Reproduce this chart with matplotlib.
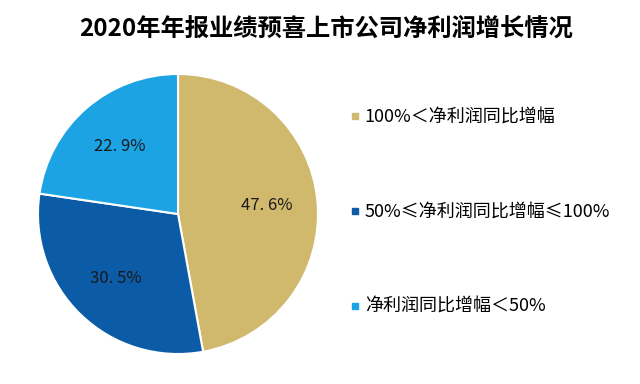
import matplotlib.pyplot as plt
from matplotlib.lines import Line2D

plt.rcParams['font.family'] = ['Noto Sans CJK SC', 'DejaVu Sans']

labels = ['100%＜净利润同比增幅', '50%≤净利润同比增幅≤100%', '净利润同比增幅＜50%']
values = [47.6, 30.5, 22.9]
colors = ['#D0B86C', '#0B5BA6', '#1BA3E3']

fig = plt.figure(figsize=(6.4, 3.84), dpi=100)
ax = fig.add_axes([38 / 640, 30 / 384, 280 / 640, 280 / 384])

pct_text = iter(['{:.1f}%'.format(v).replace('.', '. ') for v in values])
wedges, texts, autotexts = ax.pie(
    values, colors=colors, startangle=90, counterclock=False,
    autopct=lambda p: next(pct_text),
    pctdistance=0.64, radius=1.0,
    wedgeprops=dict(edgecolor='white', linewidth=1.5),
    textprops=dict(fontsize=12, color='#1a1a1a'))
ax.set_xlim(-1.0, 1.0)
ax.set_ylim(-1.0, 1.0)
ax.set_aspect('equal')

fig.text(0.51, 0.925, '2020年年报业绩预喜上市公司净利润增长情况',
         ha='center', va='center', fontsize=17.5, fontweight='bold')

handles = [Line2D([], [], marker='s', linestyle='none', markersize=5,
                  markerfacecolor=c, markeredgecolor=c) for c in colors]
fig.legend(handles, labels, loc='upper left', bbox_to_anchor=(0.522, 0.76),
           frameon=False, prop=dict(size=13, weight='light'), labelspacing=4.25,
           handlelength=0.5, handletextpad=0.3)

fig.savefig('out.png', dpi=100)
